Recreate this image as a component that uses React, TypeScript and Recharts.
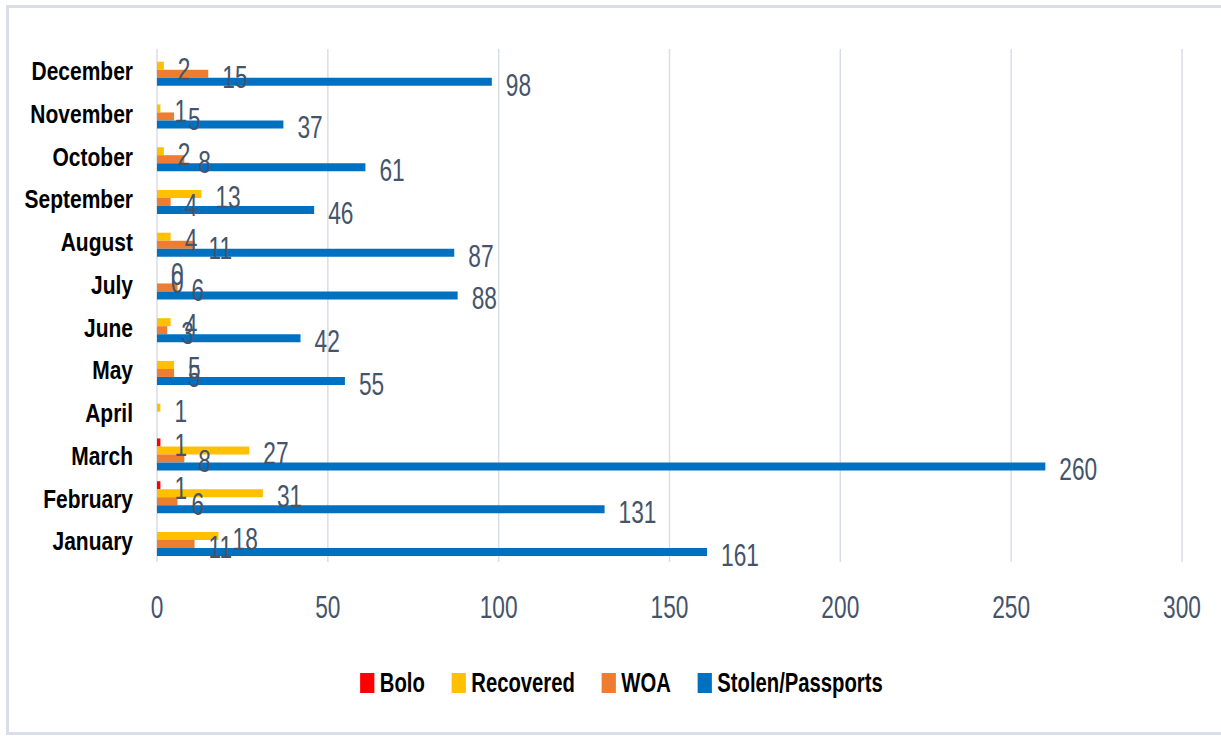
import * as React from 'react';
import { Bar, BarChart, CartesianGrid, LabelList, XAxis, YAxis } from 'recharts';

// categories bottom -> top (axis is reversed so December sits at the top)
const months = [
  'January', 'February', 'March', 'April', 'May', 'June',
  'July', 'August', 'September', 'October', 'November', 'December',
];
const bolo = [null, 1, 1, null, null, null, 0, null, null, null, null, null];
const recovered = [18, 31, 27, 1, 5, 4, 0, 4, 13, 2, 1, 2];
const woa = [11, 6, 8, null, 5, 3, 6, 11, 4, 8, 5, 15];
const stolen = [161, 131, 260, null, 55, 42, 88, 87, 46, 61, 37, 98];
const xTicks = [0, 50, 100, 150, 200, 250, 300];

const series = [
  { key: 'bolo', name: 'Bolo', color: '#FF0000' },
  { key: 'recovered', name: 'Recovered', color: '#FFC000' },
  { key: 'woa', name: 'WOA', color: '#ED7D31' },
  { key: 'stolen', name: 'Stolen/Passports', color: '#0070C0' },
];

const data = months.map((month, i) => ({
  month,
  bolo: bolo[i],
  recovered: recovered[i],
  woa: woa[i],
  stolen: stolen[i],
}));

const FONT = "'Liberation Sans', Arial, sans-serif";
const LABEL_COLOR = '#44546A';

function MonthTick({ x, y, payload }: any) {
  return (
    <g transform={`translate(${x - 24},${y + 1}) scale(0.84,1)`}>
      <text
        x={0}
        y={0}
        textAnchor="end"
        dominantBaseline="central"
        fontFamily={FONT}
        fontWeight="bold"
        fontSize={25}
        fill="#000"
      >
        {payload.value}
      </text>
    </g>
  );
}

function ValueTick({ x, y, payload }: any) {
  return (
    <g transform={`translate(${x},${y + 45}) scale(0.71,1)`}>
      <text
        x={0}
        y={0}
        textAnchor="middle"
        dominantBaseline="central"
        fontFamily={FONT}
        fontSize={32}
        fill={LABEL_COLOR}
      >
        {payload.value}
      </text>
    </g>
  );
}

function BarValue(props: any) {
  const { value } = props;
  if (value === null || value === undefined) return null;
  const box = props.viewBox ?? props;
  const x = Number(box.x) + Math.max(0, Number(box.width) || 0) + 14;
  const y = Number(box.y) + Number(box.height) / 2 + 3;
  return (
    <g transform={`translate(${x},${y}) scale(0.71,1)`}>
      <text
        x={0}
        y={0}
        textAnchor="start"
        dominantBaseline="central"
        fontFamily={FONT}
        fontSize={32}
        fill={LABEL_COLOR}
      >
        {value}
      </text>
    </g>
  );
}

function LegendRow() {
  return (
    <div
      style={{
        position: 'absolute',
        left: 11,
        top: 668,
        width: 1221,
        display: 'flex',
        justifyContent: 'center',
        transform: 'scaleX(0.75)',
        transformOrigin: '50% 0',
      }}
    >
      {series.map((s, i) => (
        <div
          key={s.key}
          style={{
            display: 'flex',
            alignItems: 'center',
            marginLeft: i === 0 ? 0 : 36,
            height: 30,
          }}
        >
          <span
            style={{
              display: 'inline-block',
              width: 19,
              height: 19.5,
              background: s.color,
              marginRight: 7,
            }}
          />
          <span
            style={{
              fontFamily: FONT,
              fontWeight: 'bold',
              fontSize: 27,
              color: '#000',
              lineHeight: '30px',
            }}
          >
            {s.name}
          </span>
        </div>
      ))}
    </div>
  );
}

export default function App() {
  return (
    <div
      style={{
        position: 'fixed',
        left: 0,
        top: 0,
        width: 1221,
        height: 736,
        overflow: 'hidden',
        background: '#fff',
      }}
    >
      <div style={{ position: 'absolute', left: 0, top: 0 }}>
        <BarChart
          width={1221}
          height={736}
          data={data}
          layout="vertical"
          margin={{ top: 49, right: 39, bottom: 114, left: 0 }}
          barCategoryGap="11%"
          barGap={0}
        >
          <CartesianGrid horizontal={false} stroke="#d9dee6" strokeWidth={1.5} />
          <XAxis
            type="number"
            domain={[0, 300]}
            ticks={xTicks}
            axisLine={false}
            tickLine={false}
            tickSize={0}
            tickMargin={0}
            height={60}
            tick={<ValueTick />}
          />
          <YAxis
            type="category"
            dataKey="month"
            reversed
            width={157}
            axisLine={false}
            tickLine={false}
            tickSize={0}
            tickMargin={0}
            interval={0}
            tick={<MonthTick />}
          />
          {series.map((s) => (
            <Bar
              key={s.key}
              dataKey={s.key}
              name={s.name}
              fill={s.color}
              minPointSize={0.01}
              isAnimationActive={false}
            >
              <LabelList dataKey={s.key} content={<BarValue />} />
            </Bar>
          ))}
        </BarChart>
      </div>
      <div
        style={{
          position: 'absolute',
          left: 6,
          top: 5,
          width: 1260,
          height: 730,
          boxSizing: 'border-box',
          border: '3px solid #d8dfe8',
          pointerEvents: 'none',
          zIndex: 2,
        }}
      />
      <LegendRow />
    </div>
  );
}
